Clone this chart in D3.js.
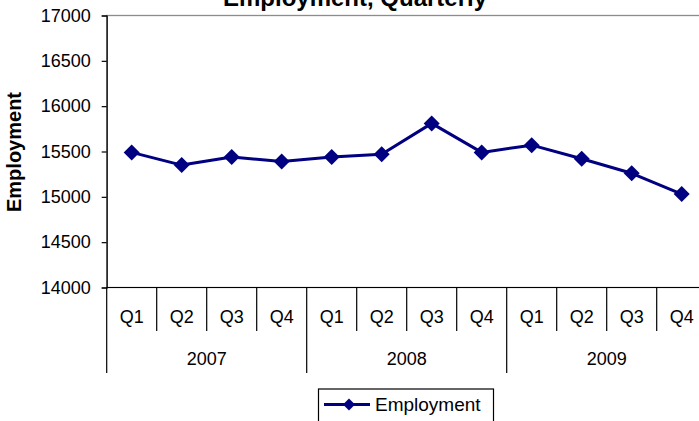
<!DOCTYPE html>
<html>
<head>
<meta charset="utf-8">
<script src="https://cdn.jsdelivr.net/npm/d3@7"></script>
<style>
  html, body { margin: 0; padding: 0; background: #fff; }
  svg { display: block; font-family: Arial, "Liberation Sans", sans-serif; }
</style>
</head>
<body>
<svg id="chart" width="699" height="421"></svg>
<script>
// Quarterly employment, 2007–2009
const years = ["2007", "2008", "2009"];
const quarters = ["Q1", "Q2", "Q3", "Q4"];
const employment = [15490, 15350, 15440, 15390, 15440, 15470, 15810, 15490, 15570, 15420, 15260, 15030];
const yTicks = [14000, 14500, 15000, 15500, 16000, 16500, 17000];
const seriesName = "Employment";
const chartTitle = "Employment, Quarterly";

const svg = d3.select("#chart");
const W = 699, H = 421;
const plot = { left: 106.7, right: 706.7, top: 15.5, bottom: 287.5 };
const navy = "#000080";

// one key per quarter, e.g. "2007-Q1"
const keys = years.flatMap(y => quarters.map(q => y + "-" + q));
const data = keys.map((k, i) => ({ key: k, year: k.split("-")[0], q: k.split("-")[1], v: employment[i] }));

const x = d3.scaleBand().domain(keys).range([plot.left, plot.right]).padding(0);
const y = d3.scaleLinear().domain([14000, 17000]).range([plot.bottom, plot.top]);

svg.append("rect").attr("width", W).attr("height", H).attr("fill", "#fff");

// plot area frame (top edge visible in grey)
svg.append("rect")
  .attr("x", plot.left).attr("y", plot.top)
  .attr("width", plot.right - plot.left).attr("height", plot.bottom - plot.top)
  .attr("fill", "none").attr("stroke", "#8c8c8c").attr("stroke-width", 1.3);

// title
svg.append("text")
  .attr("x", 355).attr("y", 6)
  .attr("text-anchor", "middle")
  .attr("font-size", 24).attr("font-weight", "bold")
  .text(chartTitle);

// y axis
const yAxis = d3.axisLeft(y).tickValues(yTicks).tickSize(5).tickPadding(11).tickFormat(d3.format("d"));
const gy = svg.append("g").attr("transform", `translate(${plot.left},0)`).call(yAxis);
gy.select(".domain").attr("stroke", "#000").attr("stroke-width", 1.2);
gy.selectAll(".tick line").attr("stroke", "#000").attr("stroke-width", 1.2);
gy.selectAll(".tick text").attr("font-size", 18).attr("font-family", "Arial, 'Liberation Sans', sans-serif").attr("fill", "#000");

// y axis title
svg.append("text")
  .attr("transform", `translate(21,${(plot.top + plot.bottom) / 2 + 0.5}) rotate(-90)`)
  .attr("text-anchor", "middle")
  .attr("font-size", 20).attr("font-weight", "bold")
  .text(seriesName);

// x axis baseline
const gx = svg.append("g");
gx.append("line")
  .attr("x1", plot.left).attr("x2", W + 10)
  .attr("y1", plot.bottom).attr("y2", plot.bottom)
  .attr("stroke", "#000").attr("stroke-width", 1.2);

// category dividers: short between quarters, long between years
const bw = x.bandwidth();
d3.range(keys.length + 1).forEach(i => {
  const xx = plot.left + i * bw;
  const long = i % quarters.length === 0;
  gx.append("line")
    .attr("x1", xx).attr("x2", xx)
    .attr("y1", plot.bottom).attr("y2", long ? 373 : 331)
    .attr("stroke", "#000").attr("stroke-width", 1.2);
});

// quarter labels
gx.selectAll("text.q").data(data).join("text")
  .attr("class", "q")
  .attr("x", d => x(d.key) + bw / 2)
  .attr("y", 323)
  .attr("text-anchor", "middle")
  .attr("font-size", 18)
  .text(d => d.q);

// year labels
gx.selectAll("text.yr").data(years).join("text")
  .attr("class", "yr")
  .attr("x", yr => x(yr + "-Q1") + bw * quarters.length / 2)
  .attr("y", 365)
  .attr("text-anchor", "middle")
  .attr("font-size", 18)
  .text(yr => yr);

// series line
const line = d3.line().x(d => x(d.key) + bw / 2).y(d => y(d.v));
svg.append("path")
  .datum(data)
  .attr("d", line)
  .attr("fill", "none")
  .attr("stroke", navy)
  .attr("stroke-width", 3)
  .attr("stroke-linejoin", "round");

// diamond markers
const diamond = (r) => `M0,${-r}L${r},0L0,${r}L${-r},0Z`;
svg.selectAll("path.mk").data(data).join("path")
  .attr("class", "mk")
  .attr("transform", d => `translate(${x(d.key) + bw / 2},${y(d.v)})`)
  .attr("d", diamond(8))
  .attr("fill", navy);

// legend
const lg = svg.append("g");
lg.append("rect")
  .attr("x", 318.5).attr("y", 389)
  .attr("width", 175).attr("height", 40)
  .attr("fill", "#fff").attr("stroke", "#000").attr("stroke-width", 1.2);
lg.append("line")
  .attr("x1", 324).attr("x2", 370).attr("y1", 404.5).attr("y2", 404.5)
  .attr("stroke", navy).attr("stroke-width", 3);
lg.append("path")
  .attr("transform", "translate(349,404.5)")
  .attr("d", diamond(6))
  .attr("fill", navy);
lg.append("text")
  .attr("x", 375).attr("y", 410.5)
  .attr("font-size", 19)
  .text(seriesName);
</script>
</body>
</html>
